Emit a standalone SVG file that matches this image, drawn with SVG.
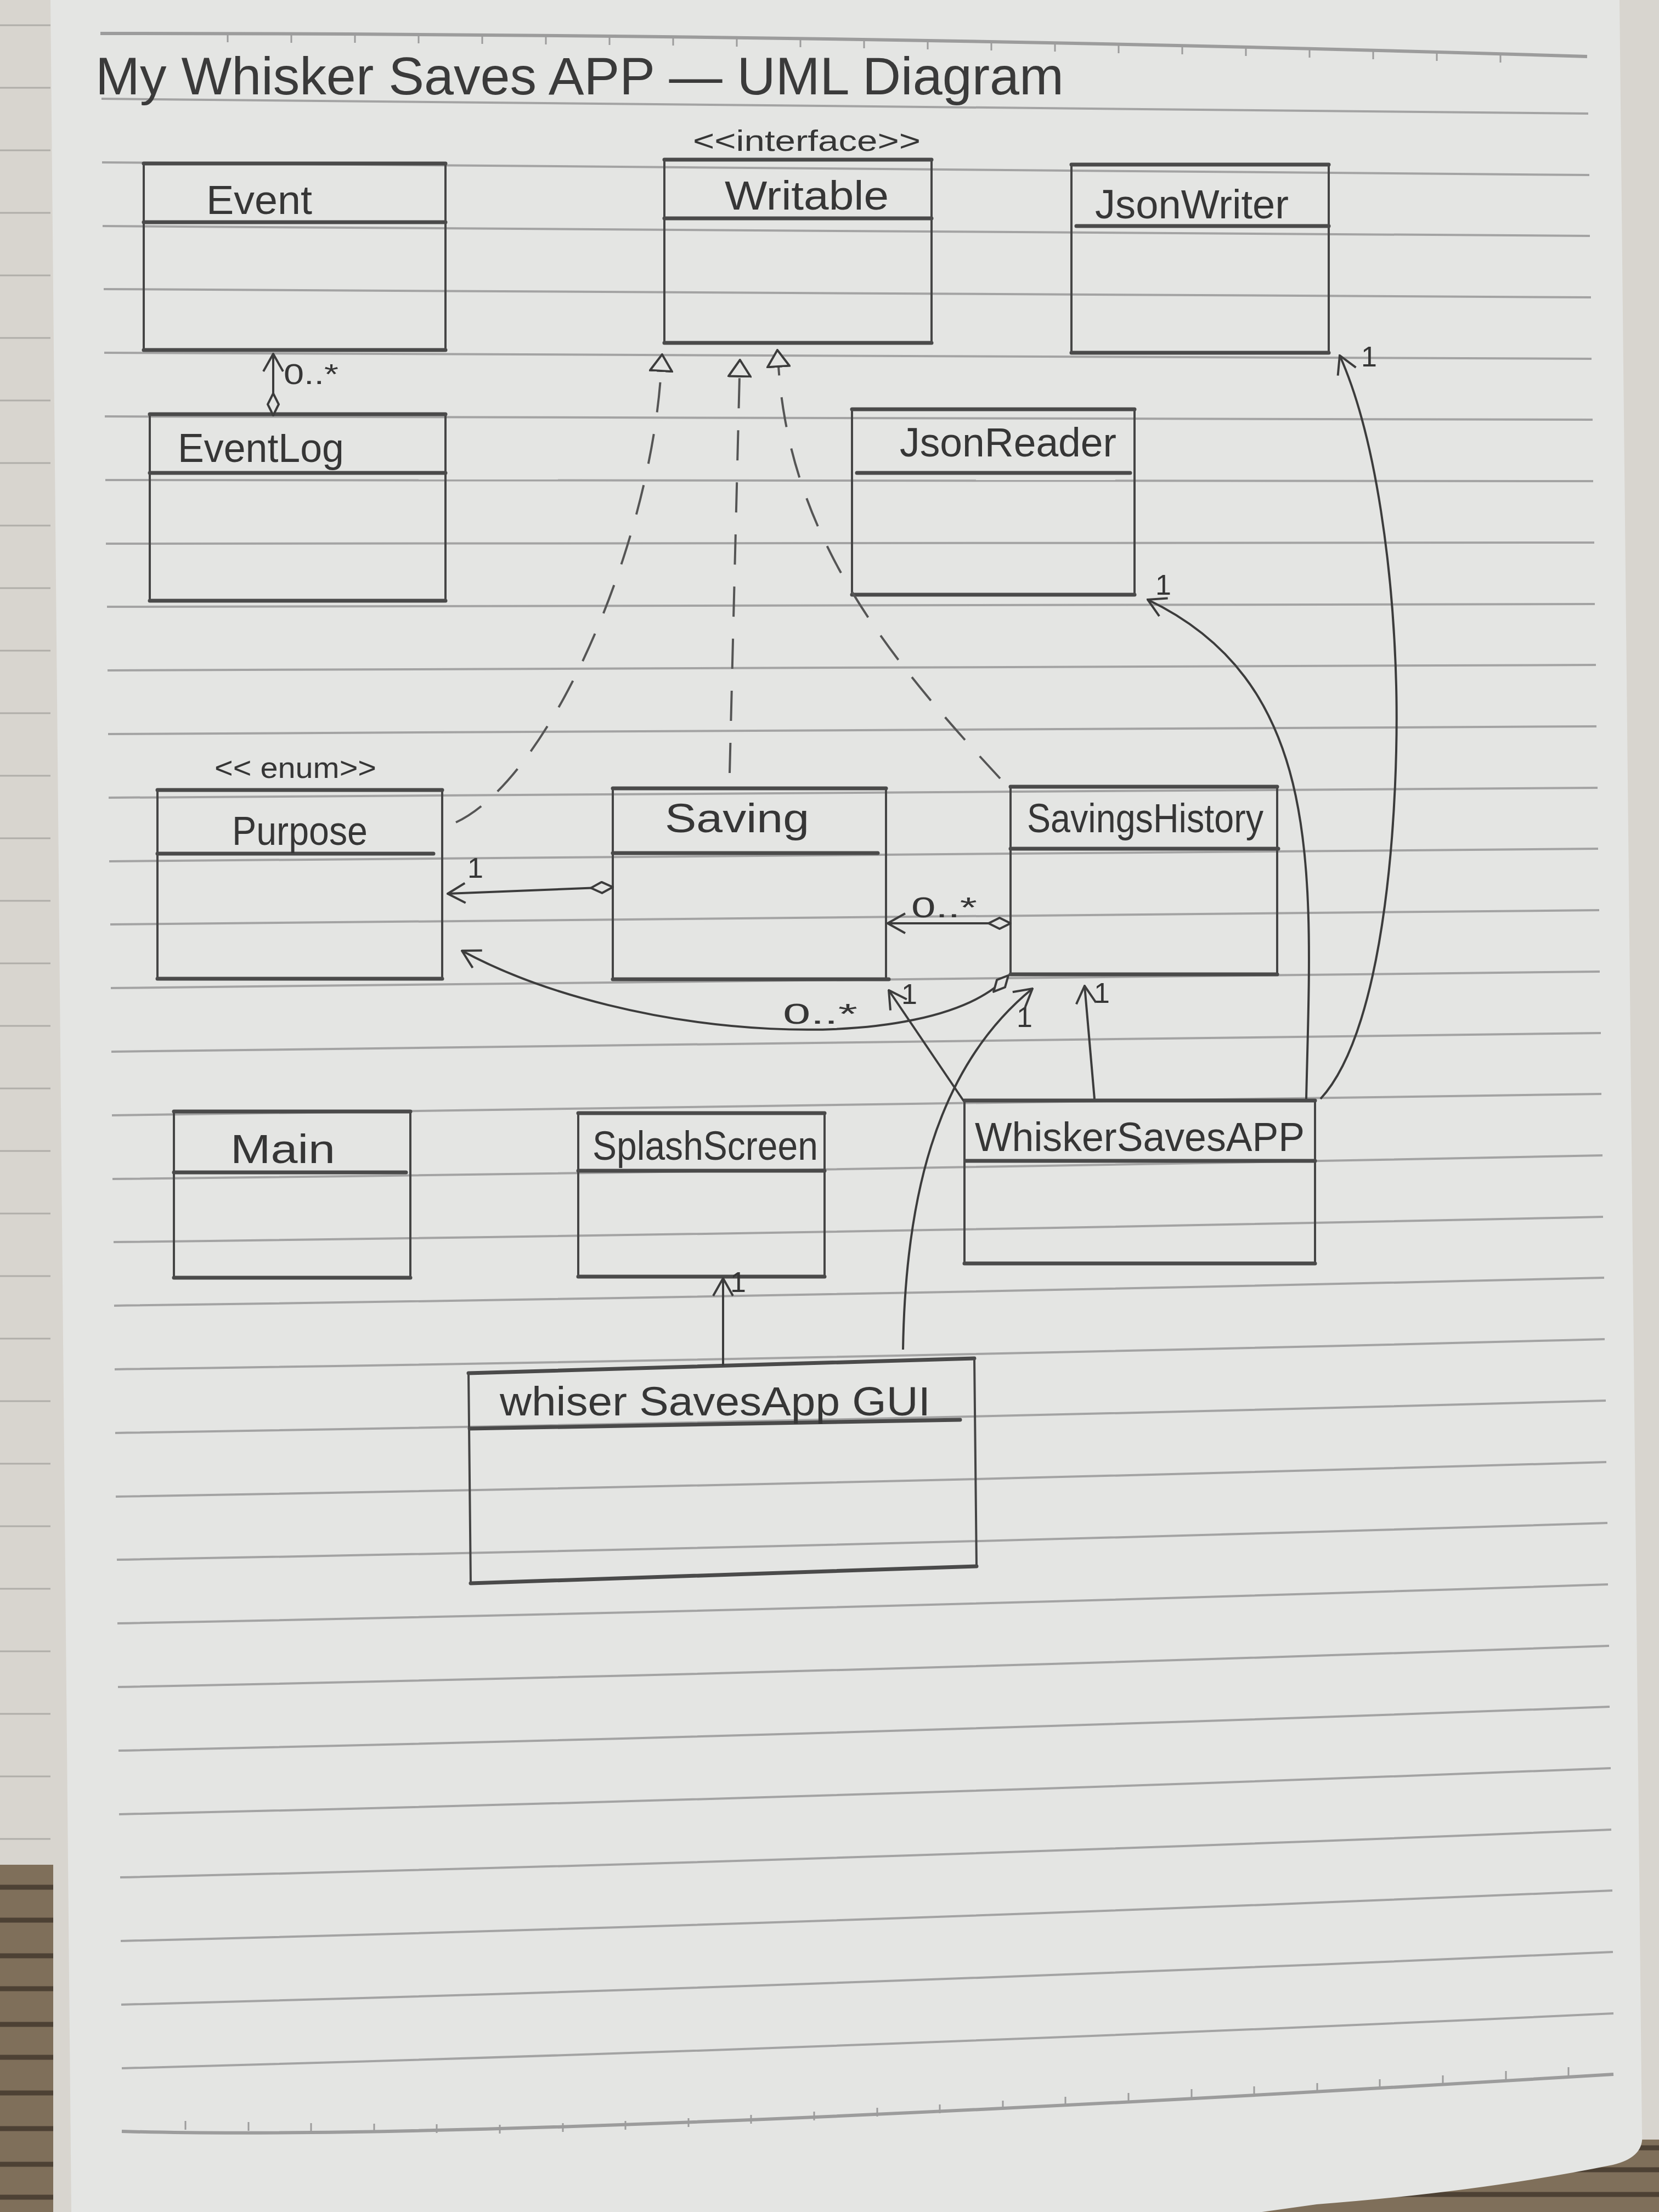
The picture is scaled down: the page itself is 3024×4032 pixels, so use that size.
<svg xmlns="http://www.w3.org/2000/svg" width="3024" height="4032" viewBox="0 0 3024 4032">
<style>
.box{fill:none;stroke:#454545;stroke-width:4}
.bold{fill:none;stroke:#4a4a4a;stroke-width:7;stroke-linecap:round}
.name{font-family:"Liberation Sans",Arial,sans-serif;font-size:74px;fill:#363636}
.stereo{font-family:"Liberation Sans",Arial,sans-serif;font-size:54px;fill:#363636}
.mult{font-family:"Liberation Sans",Arial,sans-serif;font-size:52px;fill:#363636}
.title{font-family:"Liberation Sans",Arial,sans-serif;font-size:96px;fill:#3a3a3a}
.rule{fill:none;stroke:#a3a3a3;stroke-width:4}
.ruler{fill:none;stroke:#9c9c9c;stroke-width:6}
.tick{fill:none;stroke:#9c9c9c;stroke-width:3}
.conn{fill:none;stroke:#3c3c3c;stroke-width:4}
.dash{fill:none;stroke:#555;stroke-width:4;stroke-dasharray:55 40}
.mk{fill:none;stroke:#3c3c3c;stroke-width:4;stroke-dasharray:none}
.mkf{fill:#e4e5e3;stroke:#3c3c3c;stroke-width:4;stroke-dasharray:none}
.wood{fill:#7f6f5a}
.grain{fill:none;stroke:#4d4134;stroke-width:9}
</style>
<defs>
<marker id="open" markerUnits="userSpaceOnUse" viewBox="0 0 36 40" refX="34" refY="20" markerWidth="36" markerHeight="40" orient="auto">
<path class="mk" d="M2,2 L34,20 L2,38"/>
</marker>
<marker id="diamond" markerUnits="userSpaceOnUse" viewBox="0 0 44 24" refX="2" refY="12" markerWidth="44" markerHeight="24" orient="auto">
<path class="mkf" d="M2,12 L22,2 L42,12 L22,22 Z"/>
</marker>
<marker id="tri" markerUnits="userSpaceOnUse" viewBox="0 0 34 44" refX="2" refY="22" markerWidth="34" markerHeight="44" orient="auto">
<path class="mkf" d="M2,2 L32,22 L2,42 Z"/>
</marker>
</defs>

<!-- background scene -->
<rect x="0" y="0" width="3024" height="4032" fill="#d8d5cf"/>
<rect class="wood" x="0" y="3399" width="97" height="633"/>
<path class="grain" d="M0,3440 H97 M0,3500 H97 M0,3565 H97 M0,3625 H97 M0,3690 H97 M0,3750 H97 M0,3815 H97 M0,3880 H97 M0,3945 H97 M0,4005 H97"/>
<rect class="wood" x="2200" y="3900" width="824" height="132"/>
<path class="grain" d="M2200,3955 H3024 M2200,4000 H3024 M2900,3915 H3024"/>
<g stroke="#b0aea9" stroke-width="3">
<path d="M0,46 H92 M0,160 H92 M0,274 H92 M0,388 H92 M0,502 H92 M0,616 H92 M0,730 H92 M0,844 H92 M0,958 H92 M0,1072 H92 M0,1186 H92 M0,1300 H92 M0,1414 H92 M0,1528 H92 M0,1642 H92 M0,1756 H92 M0,1870 H92 M0,1984 H92 M0,2098 H92 M0,2212 H92 M0,2326 H92 M0,2440 H92 M0,2554 H92 M0,2668 H92 M0,2782 H92 M0,2896 H92 M0,3010 H92 M0,3124 H92 M0,3238 H92 M0,3352 H92"/>
</g>
<path d="M92,0 L2952,0 L2993,3890 Q2998,3932 2940,3946 Q2700,3995 2400,4018 L2300,4032 L130,4032 Z" fill="#e4e5e3"/>

<!-- ruled lines -->
<g id="ruling">
<path class="ruler" d="M183,61 Q1538,61 2893,103"/>
<path class="tick" d="M415,61 v16 M531,62 v16 M647,62 v16 M763,63 v16 M879,64 v16 M995,65 v16 M1111,66 v16 M1227,67 v16 M1343,69 v16 M1459,70 v16 M1575,72 v16 M1691,74 v16 M1807,76 v16 M1923,78 v16 M2039,81 v16 M2155,83 v16 M2271,86 v16 M2387,89 v16 M2503,92 v16 M2619,95 v16 M2735,98 v16"/>
<path class="rule" d="M185,180 Q1540,189 2895,207"/>
<path class="rule" d="M186,296 Q1540,304 2897,319"/>
<path class="rule" d="M187,412 Q1540,418 2898,430"/>
<path class="rule" d="M189,527 Q1540,532 2900,542"/>
<path class="rule" d="M190,643 Q1540,647 2901,654"/>
<path class="rule" d="M191,759 Q1540,761 2903,765"/>
<path class="rule" d="M192,875 Q1540,876 2904,877"/>
<path class="rule" d="M193,991 Q1540,990 2906,989"/>
<path class="rule" d="M195,1106 Q1540,1104 2907,1101"/>
<path class="rule" d="M196,1222 Q1540,1219 2909,1212"/>
<path class="rule" d="M197,1338 Q1540,1333 2910,1324"/>
<path class="rule" d="M198,1454 Q1540,1448 2912,1436"/>
<path class="rule" d="M199,1570 Q1540,1562 2913,1547"/>
<path class="rule" d="M201,1685 Q1540,1676 2915,1659"/>
<path class="rule" d="M202,1801 Q1540,1790 2916,1771"/>
<path class="rule" d="M203,1917 Q1540,1905 2918,1883"/>
<path class="rule" d="M204,2033 Q1540,2019 2919,1994"/>
<path class="rule" d="M205,2149 Q1540,2134 2921,2106"/>
<path class="rule" d="M207,2264 Q1540,2248 2922,2218"/>
<path class="rule" d="M208,2380 Q1540,2362 2924,2329"/>
<path class="rule" d="M209,2496 Q1540,2477 2925,2441"/>
<path class="rule" d="M210,2612 Q1540,2591 2927,2553"/>
<path class="rule" d="M211,2728 Q1540,2706 2928,2665"/>
<path class="rule" d="M213,2843 Q1540,2820 2930,2776"/>
<path class="rule" d="M214,2959 Q1540,2934 2931,2888"/>
<path class="rule" d="M215,3075 Q1540,3049 2933,3000"/>
<path class="rule" d="M216,3191 Q1540,3163 2934,3111"/>
<path class="rule" d="M217,3307 Q1540,3277 2936,3223"/>
<path class="rule" d="M219,3422 Q1540,3392 2937,3335"/>
<path class="rule" d="M220,3538 Q1540,3506 2939,3446"/>
<path class="rule" d="M221,3654 Q1540,3620 2940,3558"/>
<path class="rule" d="M222,3770 Q1540,3735 2941,3670"/>
<path class="ruler" d="M222,3885 Q900,3905 2941,3781"/>
<path class="tick" d="M338,3882 v-16 M453,3884 v-16 M567,3886 v-16 M682,3887 v-16 M796,3888 v-16 M911,3889 v-16 M1026,3886 v-16 M1140,3882 v-16 M1255,3877 v-16 M1369,3871 v-16 M1484,3865 v-16 M1599,3858 v-16 M1713,3852 v-16 M1828,3845 v-16 M1942,3838 v-16 M2057,3831 v-16 M2172,3824 v-16 M2286,3819 v-16 M2401,3813 v-16 M2515,3806 v-16 M2630,3799 v-16 M2745,3791 v-16 M2859,3784 v-16"/>
</g>

<text class="title" x="174" y="172" textLength="1765" lengthAdjust="spacingAndGlyphs">My Whisker Saves APP — UML Diagram</text>

<!-- nodes -->
<g id="node-event">
<rect class="box" x="262" y="298" width="550" height="340"/>
<path class="bold" d="M262,298 H812 M262,405 H812 M262,638 H812"/>
<text class="name" x="376" y="390" textLength="193" lengthAdjust="spacingAndGlyphs">Event</text>
</g>
<g id="node-writable">
<text class="stereo" x="1263" y="275" textLength="415" lengthAdjust="spacingAndGlyphs">&lt;&lt;interface&gt;&gt;</text>
<rect class="box" x="1211" y="291" width="487" height="334"/>
<path class="bold" d="M1211,291 H1698 M1211,398 H1698 M1211,625 H1698"/>
<text class="name" x="1321" y="382" textLength="299" lengthAdjust="spacingAndGlyphs">Writable</text>
</g>
<g id="node-jsonwriter">
<rect class="box" x="1953" y="300" width="469" height="343"/>
<path class="bold" d="M1953,300 H2422 M1962,412 H2422 M1953,643 H2422"/>
<text class="name" x="1996" y="398" textLength="353" lengthAdjust="spacingAndGlyphs">JsonWriter</text>
</g>
<g id="node-eventlog">
<rect class="box" x="273" y="755" width="539" height="340"/>
<path class="bold" d="M273,755 H812 M273,862 H812 M273,1095 H812"/>
<text class="name" x="324" y="842" textLength="303" lengthAdjust="spacingAndGlyphs">EventLog</text>
</g>
<g id="node-jsonreader">
<rect class="box" x="1553" y="746" width="515" height="338"/>
<path class="bold" d="M1553,746 H2068 M1562,862 H2060 M1553,1084 H2068"/>
<text class="name" x="1640" y="832" textLength="395" lengthAdjust="spacingAndGlyphs">JsonReader</text>
</g>
<g id="node-purpose">
<text class="stereo" x="391" y="1418" textLength="295" lengthAdjust="spacingAndGlyphs">&lt;&lt; enum&gt;&gt;</text>
<rect class="box" x="287" y="1440" width="519" height="344"/>
<path class="bold" d="M287,1440 H806 M287,1556 H790 M287,1784 H806"/>
<text class="name" x="423" y="1540" textLength="247" lengthAdjust="spacingAndGlyphs">Purpose</text>
</g>
<g id="node-saving">
<rect class="box" x="1117" y="1437" width="498" height="348"/>
<path class="bold" d="M1117,1437 H1615 M1117,1555 H1600 M1117,1785 H1620"/>
<text class="name" x="1212" y="1517" textLength="263" lengthAdjust="spacingAndGlyphs">Saving</text>
</g>
<g id="node-savingshistory">
<rect class="box" x="1842" y="1434" width="486" height="342"/>
<path class="bold" d="M1842,1434 H2328 M1842,1547 H2330 M1842,1776 H2328"/>
<text class="name" x="1872" y="1517" textLength="431" lengthAdjust="spacingAndGlyphs">SavingsHistory</text>
</g>
<g id="node-main">
<rect class="box" x="317" y="2026" width="431" height="303"/>
<path class="bold" d="M317,2026 H748 M317,2137 H740 M317,2329 H748"/>
<text class="name" x="420" y="2120" textLength="191" lengthAdjust="spacingAndGlyphs">Main</text>
</g>
<g id="node-splashscreen">
<rect class="box" x="1054" y="2029" width="449" height="298"/>
<path class="bold" d="M1054,2029 H1503 M1054,2134 H1503 M1054,2327 H1503"/>
<text class="name" x="1080" y="2114" textLength="411" lengthAdjust="spacingAndGlyphs">SplashScreen</text>
</g>
<g id="node-whiskersavesapp">
<rect class="box" x="1758" y="2006" width="639" height="297"/>
<path class="bold" d="M1758,2006 H2397 M1760,2116 H2397 M1758,2303 H2397"/>
<text class="name" x="1777" y="2098" textLength="601" lengthAdjust="spacingAndGlyphs">WhiskerSavesAPP</text>
</g>
<g id="node-gui">
<path class="box" d="M854,2503 L1776,2476 L1780,2855 L858,2886 Z"/>
<path class="bold" d="M854,2503 L1776,2476 M856,2604 L1750,2588 M858,2886 L1780,2855"/>
<text class="name" x="911" y="2580" textLength="785" lengthAdjust="spacingAndGlyphs">whiser SavesApp GUI</text>
</g>

<!-- connectors -->
<g id="connectors">
<path class="conn" d="M498,757 L498,645" marker-start="url(#diamond)" marker-end="url(#open)"/>
<path class="dash" d="M831,1499 C1000,1420 1185,1000 1205,676" marker-end="url(#tri)"/>
<path class="dash" d="M1330,1409 L1348,686" marker-end="url(#tri)"/>
<path class="dash" d="M1823,1419 C1620,1200 1440,980 1419,668" marker-end="url(#tri)"/>
<path class="conn" d="M1117,1617 L816,1629" marker-start="url(#diamond)" marker-end="url(#open)"/>
<path class="conn" d="M1842,1683 L1618,1683" marker-start="url(#diamond)" marker-end="url(#open)"/>
<path class="conn" d="M1838,1778 C1700,1930 1150,1900 842,1733" marker-start="url(#diamond)" marker-end="url(#open)"/>
<path class="conn" d="M1756,2006 L1620,1805" marker-end="url(#open)"/>
<path class="conn" d="M1995,2003 L1977,1797" marker-end="url(#open)"/>
<path class="conn" d="M2381,2003 C2390,1600 2420,1250 2092,1093" marker-end="url(#open)"/>
<path class="conn" d="M2407,2003 C2530,1870 2550,1450 2545,1250 C2540,1050 2510,800 2442,648" marker-end="url(#open)"/>
<path class="conn" d="M1318,2489 L1318,2330" marker-end="url(#open)"/>
<path class="conn" d="M1646,2460 C1650,2200 1700,1950 1882,1802" marker-end="url(#open)"/>
<text class="mult" x="517" y="700" textLength="100" lengthAdjust="spacingAndGlyphs">0..*</text>
<text class="mult" x="852" y="1600">1</text>
<text class="mult" x="1661" y="1672" textLength="120" lengthAdjust="spacingAndGlyphs">0..*</text>
<text class="mult" x="1427" y="1866" textLength="136" lengthAdjust="spacingAndGlyphs">0..*</text>
<text class="mult" x="1643" y="1830" font-size="44">1</text>
<text class="mult" x="1853" y="1872" font-size="44">1</text>
<text class="mult" x="1994" y="1828" font-size="44">1</text>
<text class="mult" x="2106" y="1084" font-size="44">1</text>
<text class="mult" x="2481" y="668" font-size="44">1</text>
<text class="mult" x="1331" y="2355" font-size="40">1</text>
</g>
</svg>
